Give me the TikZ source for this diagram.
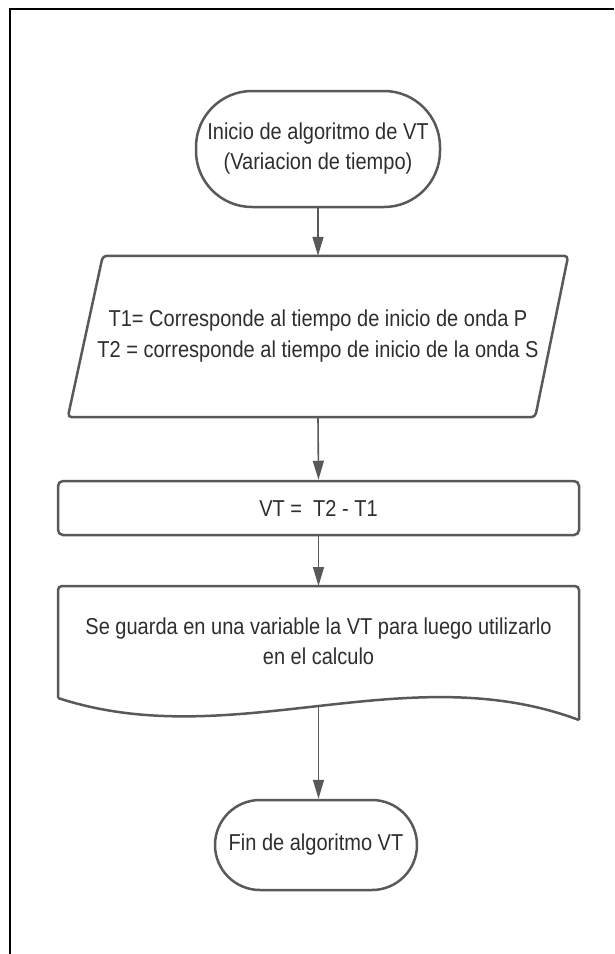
\documentclass[tikz,border=0pt]{standalone}
\usepackage{fontspec}
\setmainfont{Liberation Sans}[FakeStretch=0.87]
\usetikzlibrary{arrows.meta}
\definecolor{edge}{HTML}{595959}
\definecolor{txt}{HTML}{2E2E2E}
\tikzset{
  shapeline/.style={draw=edge, line width=2.5pt},
  basetext/.style={text=txt, align=center, inner sep=0pt, font=\fontsize{23}{30}\selectfont},
  termbox/.style={basetext, shapeline, rectangle, rounded corners=#1},
  procbox/.style={basetext, shapeline, rectangle, rounded corners=5pt},
  plainbox/.style={basetext, rectangle},
  flow/.style={draw=edge, line width=1.6pt, -{Triangle[length=19pt,width=11pt]}},
  frameline/.style={draw=black, line width=2pt}
}
\begin{document}
\begin{tikzpicture}[x=1pt,y=-1pt]
\useasboundingbox (0,0) rectangle (614,954);
\draw[frameline] (10,954) -- (10,9) -- (614,9);

% start terminal
\node[termbox=56pt, minimum width=244pt, minimum height=116pt] (start) at (318,149)
  {Inicio de algoritmo de VT\\(Variacion de tiempo)};

% input parallelogram
\node[plainbox, minimum width=500pt, minimum height=161pt, font=\fontsize{23}{31}\selectfont] (io) at (318,336.5)
  {T1= Corresponde al tiempo de inicio de onda P\\T2 = corresponde al tiempo de inicio de la onda S};
\draw[shapeline, rounded corners=4pt]
  ([xshift=35pt]io.north west) -- (io.north east) -- ([xshift=-33pt]io.south east)
  -- (io.south west) -- cycle;

% process
\node[procbox, minimum width=521pt, minimum height=54pt] (proc) at (318.5,508)
  {VT =\ \ T2 - T1};

% document
\node[plainbox, minimum width=521pt, minimum height=114pt] (doc) at (318.5,641)
  {Se guarda en una variable la VT para luego utilizarlo\\en el calculo};
\draw[shapeline, rounded corners=4pt]
  (58,698) -- (58,586) -- (579,586) [sharp corners] -- (579,720);
\draw[shapeline] (579,720) .. controls (405,655) and (232,755) .. (58,698);
\coordinate (doct) at (318.5,586);
\coordinate (docb) at (318.5,706);

% end terminal
\node[termbox=45pt, minimum width=202pt, minimum height=90pt] (fin) at (316,845)
  {Fin de algoritmo VT};

% connectors
\draw[flow] (start.south) -- (io.north);
\draw[flow] (io.south) -- (proc.north);
\draw[flow] (proc.south) -- (doct);
\draw[flow] (docb) -- (docb |- fin.north);
\end{tikzpicture}
\end{document}
